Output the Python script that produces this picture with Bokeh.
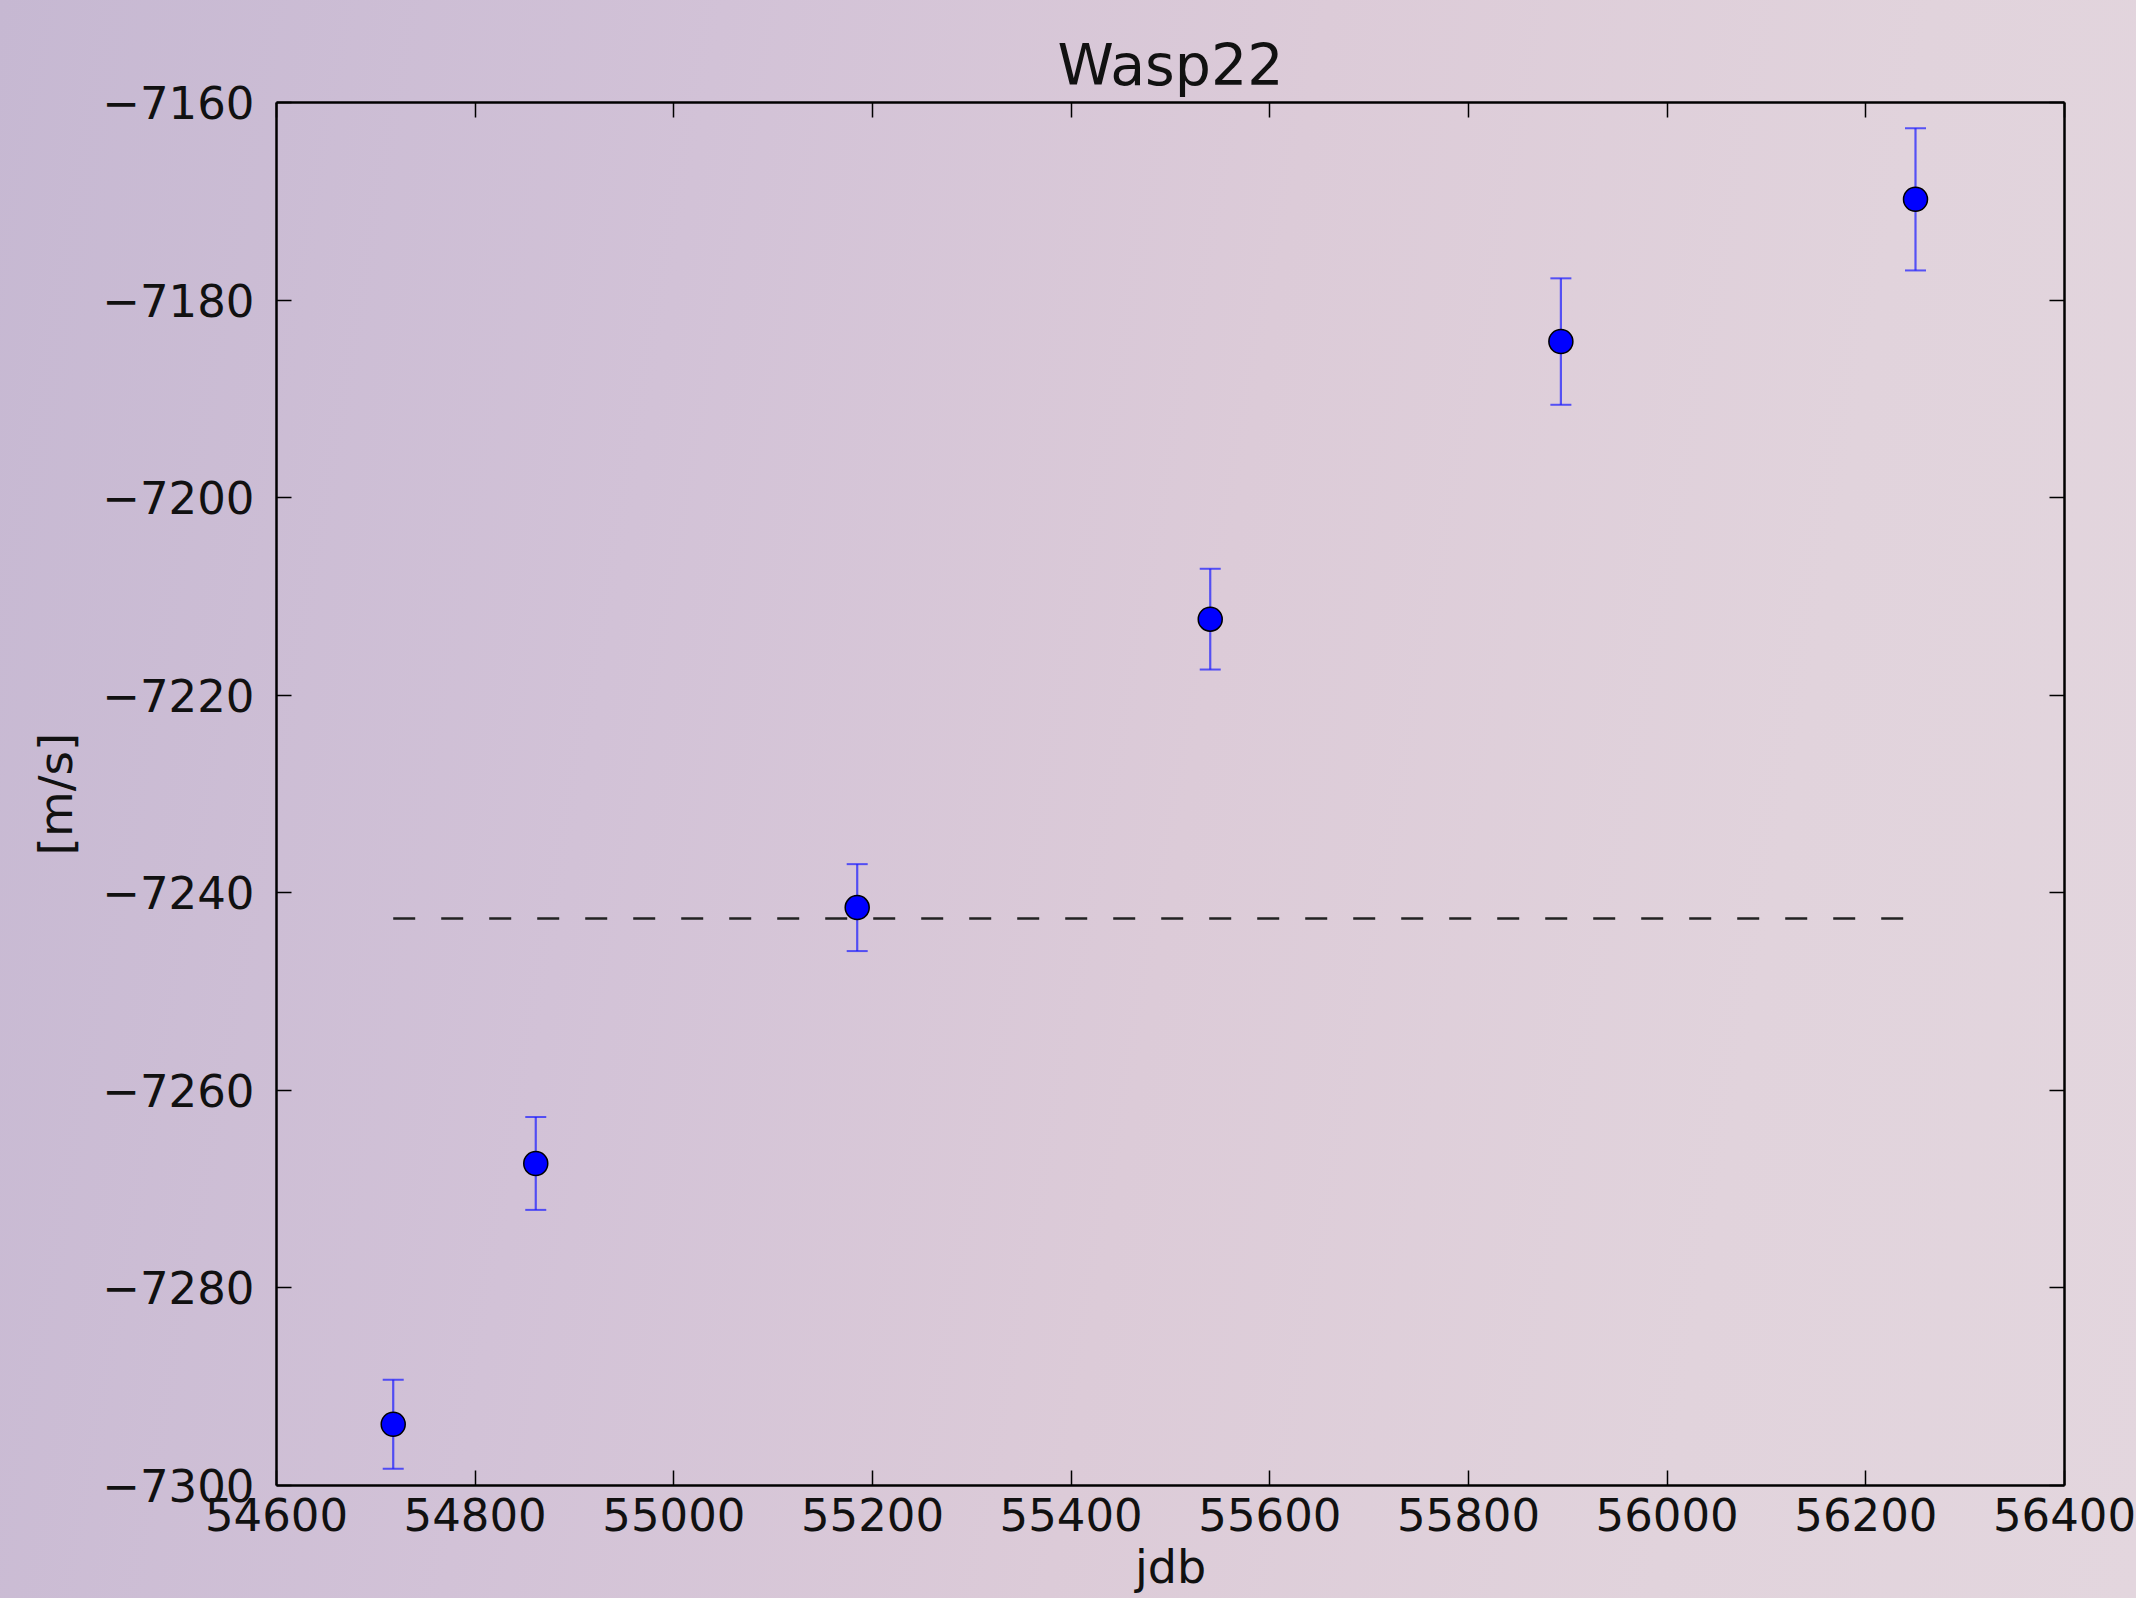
from bokeh.plotting import figure
from bokeh.models import (ColumnDataSource, Range1d, LinearAxis, FixedTicker,
                          Whisker, TeeHead, InlineStyleSheet)
from bokeh.embed import file_html
from bokeh.resources import INLINE

# ---- data ----
jdb = [54717.5, 54861, 55184.6, 55540, 55893, 56250]
rv = [-7293.8, -7267.4, -7241.5, -7212.3, -7184.2, -7169.8]
rv_err = [4.5, 4.7, 4.4, 5.1, 6.4, 7.2]
mean_level = -7242.6

x_ticks = [54600, 54800, 55000, 55200, 55400, 55600, 55800, 56000, 56200, 56400]
y_ticks = [-7300, -7280, -7260, -7240, -7220, -7200, -7180, -7160]
y_tick_labels = ["\u22127300", "\u22127280", "\u22127260", "\u22127240",
                 "\u22127220", "\u22127200", "\u22127180", "\u22127160"]

title_text = "Wasp22"
x_label = "jdb"
y_label = "[m/s]"

FONT = "DejaVu Sans"

src = ColumnDataSource(dict(
    x=jdb, y=rv,
    upper=[v + e for v, e in zip(rv, rv_err)],
    lower=[v - e for v, e in zip(rv, rv_err)],
))

p = figure(width=2136, height=1598, output_backend="svg", toolbar_location=None,
           x_range=Range1d(x_ticks[0], x_ticks[-1]),
           y_range=Range1d(y_ticks[0], y_ticks[-1]),
           min_border_left=276, min_border_right=72,
           min_border_top=102, min_border_bottom=113)

p.stylesheets = [InlineStyleSheet(css=":host { background: linear-gradient(100deg, #c6b8d2 0%, #d2c2d7 30%, #dccbd8 55%, #e1d3dc 80%, #e3d6de 100%); }")]
p.border_fill_alpha = 0
p.background_fill_alpha = 0
p.outline_line_color = None
p.xgrid.grid_line_color = None
p.ygrid.grid_line_color = None

p.title.text = title_text
p.title.align = "center"
p.title.text_font = FONT
p.title.text_font_size = "57px"
p.title.text_font_style = "normal"
p.title.text_color = "#111111"
p.title.standoff = 10

# dashed mean line
p.line(x=[jdb[0], jdb[-1]], y=[mean_level, mean_level], line_color="#222222",
       line_width=2.5, line_dash="22 26")

# error bars
p.add_layout(Whisker(source=src, base="x", upper="upper", lower="lower",
                     dimension="height", line_color="#1a1aff", line_alpha=0.7,
                     line_width=2.2,
                     upper_head=TeeHead(size=21, line_color="#1a1aff", line_alpha=0.7, line_width=2),
                     lower_head=TeeHead(size=21, line_color="#1a1aff", line_alpha=0.7, line_width=2)))

p.scatter(x="x", y="y", source=src, size=24, fill_color="#0000ff",
          line_color="#000000", line_width=1.5)

p.add_layout(LinearAxis(), "right")
p.add_layout(LinearAxis(), "above")

for ax in p.axis:
    ax.major_tick_in = 15
    ax.major_tick_out = 0
    ax.minor_tick_line_color = None
    ax.axis_line_width = 2.5
    ax.axis_line_color = "#000000"
    ax.major_tick_line_width = 1.5
    ax.major_tick_line_color = "#000000"
    ax.major_label_text_font = FONT
    ax.major_label_text_color = "#111111"

for ax in p.xaxis:
    ax.ticker = FixedTicker(ticks=x_ticks)
for ax in p.yaxis:
    ax.ticker = FixedTicker(ticks=y_ticks)

right_ax = p.right[0]
top_ax = p.above[0]
for ax in (right_ax, top_ax):
    ax.major_label_text_font_size = "1px"
    ax.major_label_text_color = None
    ax.major_label_standoff = 0

bx = p.below[0]
bx.major_label_text_font_size = "45px"
bx.major_label_standoff = 12
bx.axis_label = x_label
bx.axis_label_text_font = FONT
bx.axis_label_text_font_size = "46px"
bx.axis_label_text_font_style = "normal"
bx.axis_label_standoff = 6
bx.axis_label_text_color = "#111111"

ly = p.left[0]
ly.major_label_text_font_size = "45px"
ly.major_label_standoff = 22
ly.major_label_overrides = {t: s for t, s in zip(y_ticks, y_tick_labels)}
ly.axis_label = y_label
ly.axis_label_text_font = FONT
ly.axis_label_text_font_size = "47px"
ly.axis_label_text_font_style = "normal"
ly.axis_label_standoff = 16
ly.axis_label_text_color = "#111111"

open("out.html", "w").write(file_html(p, INLINE))
